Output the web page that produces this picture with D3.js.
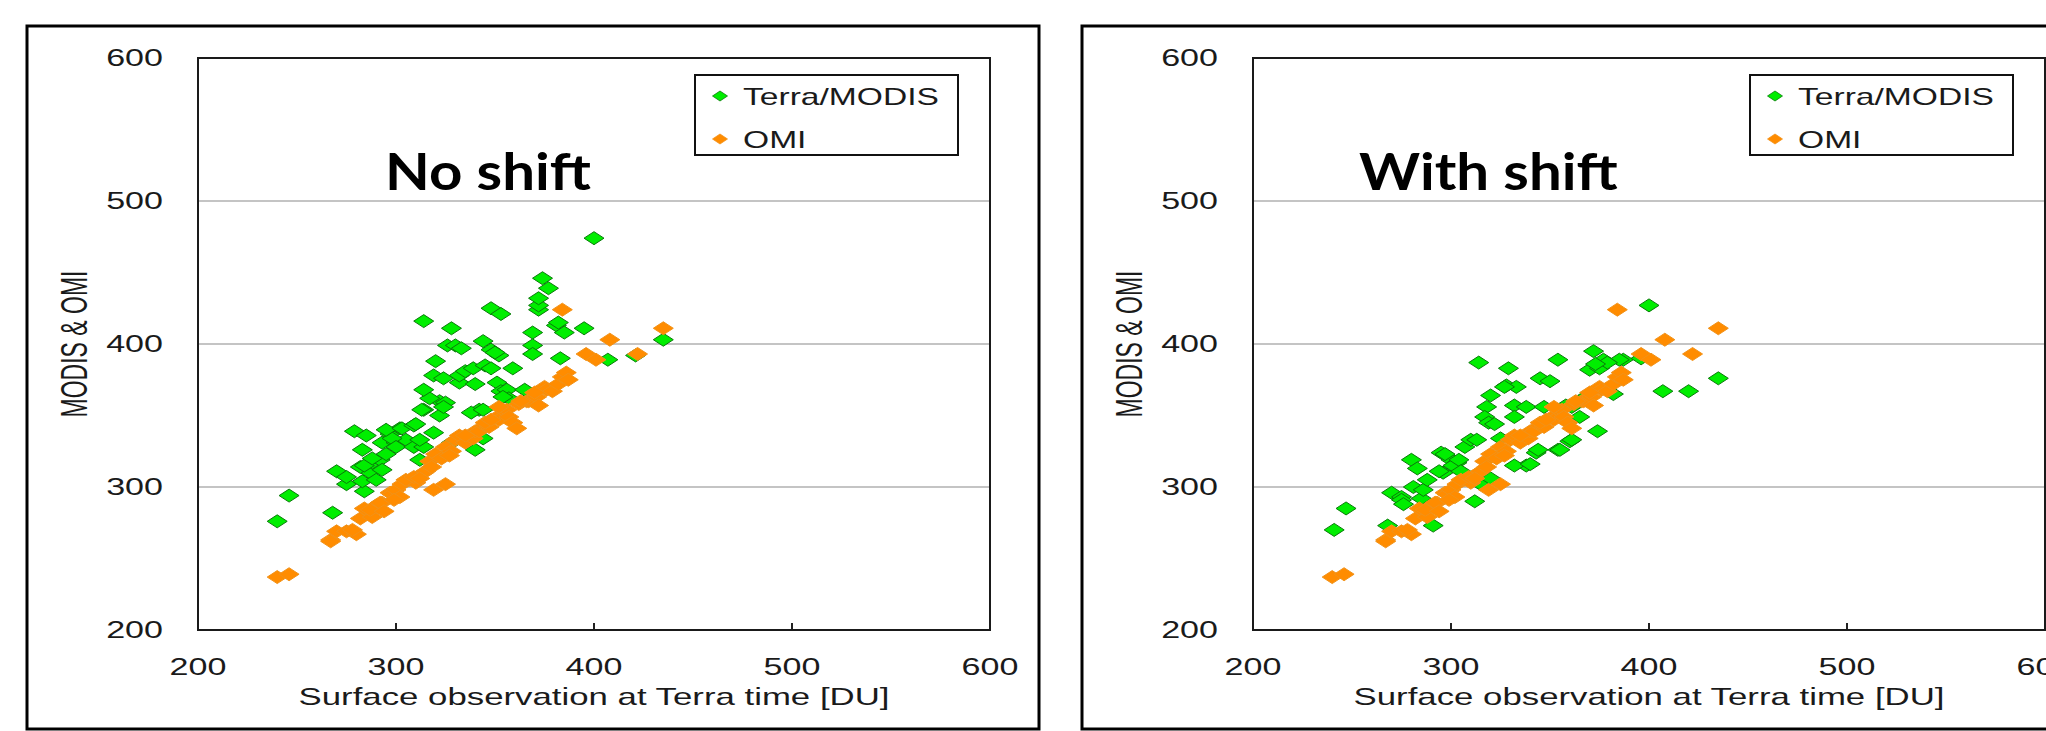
<!DOCTYPE html>
<html>
<head>
<meta charset="utf-8">
<script src="https://cdn.jsdelivr.net/npm/d3@7"></script>
<style>
  body { margin: 0; background: #fff; }
  svg { display: block; }
</style>
</head>
<body>
<svg id="chart"></svg>
<script>
// ---- data ----
const xTicks = [200, 300, 400, 500, 600];
const yTicks = [200, 300, 400, 500, 600];
const gridValues = [300, 400, 500];
const seriesNames = ['Terra/MODIS', 'OMI'];
const panelTitles = ['No shift', 'With shift'];
const xTitle = 'Surface observation at Terra time [DU]';
const yTitle = 'MODIS & OMI';

// OMI is the same in both panels
const omi = [
  [240,237],[246,239],[267,263],[270,269],[275,269],[280,267],[282,278],[287,282],[290,287],[293,289],
  [284,285],[288,279],[297,296],[298,295],[300,298],[303,302],[307,305],[302,293],[310,303],[314,310],
  [315,311],[319,298],[325,302],[317,318],[320,323],[325,328],[330,333],[332,336],[335,331],[339,334],
  [340,339],[342,339],[345,343],[347,342],[351,349],[352,347],[354,354],[356,354],[357,349],[359,345],
  [361,341],[352,356],[366,360],[367,360],[371,363],[372,357],[375,370],[376,368],[379,367],[382,372],
  [384,377],[386,380],[387,375],[384,424],[396,393],[401,389],[408,403],[422,393],[435,411],[305,305],
  [309,307],[292,289],[287,284],[267,262],[328,325],[323,320],[362,358],[345,345],[294,283],[299,291],
  [312,306],[318,314],[327,322],[335,336],[348,347],[363,360],[370,366],[278,270]
];

const modisNoShift = [
  [240,276],[246,294],[268,282],[270,311],[275,302],[279,339],[285,336],[283,326],[284,297],[275,307],
  [283,304],[287,310],[282,314],[288,317],[292,319],[293,312],[290,305],[284,315],[288,320],[295,323],
  [293,331],[300,331],[297,337],[302,341],[305,333],[298,334],[300,328],[295,340],[303,341],[309,343],
  [309,328],[314,328],[310,344],[312,333],[312,319],[319,338],[328,331],[340,326],[344,334],[342,354],
  [338,352],[322,350],[314,354],[322,360],[317,362],[325,359],[314,368],[313,354],[324,356],[319,378],
  [324,376],[332,373],[332,378],[335,381],[339,383],[340,372],[345,385],[348,383],[351,373],[353,367],
  [356,368],[357,362],[354,363],[344,354],[359,383],[365,368],[320,388],[314,416],[328,411],[326,399],
  [330,399],[333,397],[344,402],[348,396],[352,392],[350,394],[348,425],[353,421],[369,408],[369,399],
  [369,393],[372,424],[372,427],[372,432],[374,446],[377,439],[381,413],[382,415],[385,408],[395,411],
  [383,390],[407,389],[421,392],[435,403],[400,474]
];

const modisShift = [
  [241,270],[247,285],[268,273],[270,296],[275,293],[275,291],[276,288],[280,319],[283,313],[281,300],
  [285,292],[286,298],[288,305],[291,273],[295,324],[300,319],[303,317],[296,310],[294,311],[297,323],
  [301,315],[304,319],[307,328],[310,333],[313,333],[305,311],[312,290],[315,302],[320,306],[314,387],
  [329,383],[354,389],[372,395],[377,389],[387,389],[370,382],[345,376],[350,374],[328,371],[333,370],
  [435,376],[407,367],[420,367],[320,364],[318,356],[317,349],[319,345],[332,357],[332,349],[338,356],
  [347,356],[361,356],[365,349],[374,339],[360,332],[354,326],[343,324],[338,315],[332,315],[325,334],
  [400,427],[396,390],[385,389],[382,365],[375,383],[369,364],[358,357],[322,344],[327,370],[340,316],
  [344,326],[355,326],[361,333],[379,387],[373,386]
];

const panelModis = [modisNoShift, modisShift];

// ---- layout ----
const W = 2046, H = 731;
const panelOffsets = [0, 1055];
const frame = { x: 27, y: 26, w: 1012, h: 703 };
const plot = { left: 198, right: 990, top: 58, bottom: 630 };
const titleX = [385, 304];
const colors = {
  green: '#00ee00', greenStroke: '#0b7a0b',
  orange: '#ff8c00', orangeStroke: '#f29218'
};
const font = '"Liberation Sans", Arial, sans-serif';
const sx = 1.42; // the original picture is stretched sideways

const svg = d3.select('#chart').attr('width', W).attr('height', H);
svg.append('rect').attr('width', W).attr('height', H).attr('fill', '#fff');

const x = d3.scaleLinear().domain([200, 600]).range([plot.left, plot.right]);
const y = d3.scaleLinear().domain([200, 600]).range([plot.bottom, plot.top]);

function diamond(w, h) {
  return `M0,${-h}L${w},0L0,${h}L${-w},0Z`;
}

function label(g, px, py, str, size, anchor, scale) {
  return g.append('text')
    .attr('transform', `translate(${px},${py}) scale(${scale || sx},1)`)
    .attr('text-anchor', anchor || 'start')
    .attr('font-family', font)
    .attr('font-size', size)
    .attr('fill', '#1a1a1a')
    .text(str);
}

panelOffsets.forEach((off, i) => {
  const g = svg.append('g').attr('transform', `translate(${off},0)`);

  // outer frame
  g.append('rect')
    .attr('x', frame.x).attr('y', frame.y)
    .attr('width', frame.w).attr('height', frame.h)
    .attr('fill', '#fff').attr('stroke', '#000').attr('stroke-width', 3);

  // gridlines
  g.selectAll('.grid').data(gridValues).enter().append('line')
    .attr('x1', plot.left).attr('x2', plot.right)
    .attr('y1', d => y(d)).attr('y2', d => y(d))
    .attr('stroke', '#c4c4c4').attr('stroke-width', 2);

  // x ticks (inside)
  g.selectAll('.xtick').data(xTicks.slice(1, -1)).enter().append('line')
    .attr('x1', d => x(d)).attr('x2', d => x(d))
    .attr('y1', plot.bottom).attr('y2', plot.bottom - 7)
    .attr('stroke', '#222').attr('stroke-width', 2);

  // tick labels
  yTicks.forEach(v => label(g, plot.left - 35, y(v) + 8, v, 24, 'end'));
  xTicks.forEach(v => label(g, x(v), 675, v, 24, 'middle'));

  // axis titles
  label(g, x(400), 705, xTitle, 24, 'middle', 1.45);
  g.append('text')
    .attr('transform', `translate(87,${(plot.top + plot.bottom) / 2}) scale(1.6,1) rotate(-90)`)
    .attr('text-anchor', 'middle')
    .attr('font-family', font)
    .attr('font-size', 23)
    .attr('fill', '#1a1a1a')
    .text(yTitle);

  // markers: MODIS first, OMI drawn on top
  const dots = g.append('g');
  dots.selectAll('.modis').data(panelModis[i]).enter().append('path')
    .attr('d', diamond(10, 6.5))
    .attr('transform', d => `translate(${x(d[0])},${y(d[1])})`)
    .attr('fill', colors.green).attr('stroke', colors.greenStroke).attr('stroke-width', 1);
  dots.selectAll('.omi').data(omi).enter().append('path')
    .attr('d', diamond(10, 6.5))
    .attr('transform', d => `translate(${x(d[0])},${y(d[1])})`)
    .attr('fill', colors.orange).attr('stroke', colors.orangeStroke).attr('stroke-width', 1);

  // plot border
  g.append('rect')
    .attr('x', plot.left).attr('y', plot.top)
    .attr('width', plot.right - plot.left).attr('height', plot.bottom - plot.top)
    .attr('fill', 'none').attr('stroke', '#1a1a1a').attr('stroke-width', 2);

  // legend
  const lg = g.append('g').attr('transform', 'translate(695,75)');
  lg.append('rect').attr('width', 263).attr('height', 80)
    .attr('fill', '#fff').attr('stroke', '#111').attr('stroke-width', 2);
  const legendColors = [[colors.green, colors.greenStroke], [colors.orange, colors.orangeStroke]];
  seriesNames.forEach((name, k) => {
    const ly = 21 + k * 43;
    lg.append('path').attr('d', diamond(7.5, 5))
      .attr('transform', `translate(25,${ly})`)
      .attr('fill', legendColors[k][0]).attr('stroke', legendColors[k][1]).attr('stroke-width', 0.8);
    label(lg, 48, ly + 9, name, 24, 'start', 1.4);
  });

  // panel title
  g.append('text')
    .attr('transform', `translate(${titleX[i]},190) scale(1.12,1)`)
    .attr('font-family', 'Lato, "Open Sans", sans-serif')
    .attr('font-weight', 'bold')
    .attr('font-size', 52)
    .attr('fill', '#000')
    .text(panelTitles[i]);
});
</script>
</body>
</html>
